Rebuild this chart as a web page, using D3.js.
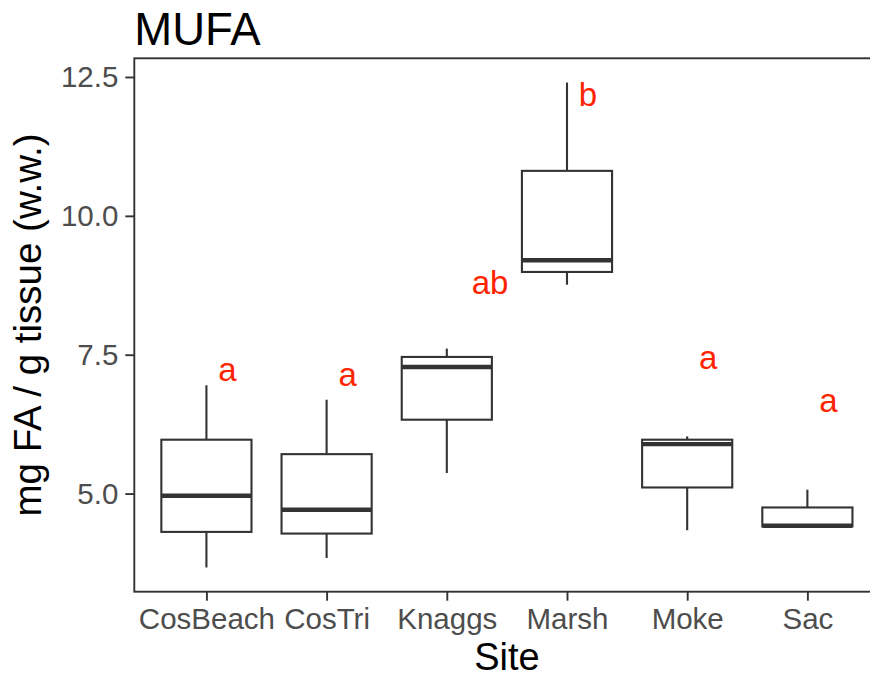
<!DOCTYPE html>
<html>
<head>
<meta charset="utf-8">
<script src="https://cdn.jsdelivr.net/npm/d3@7"></script>
<style>
  html, body { margin: 0; padding: 0; background: #fff; }
  svg { display: block; font-family: "Liberation Sans", Arial, Helvetica, sans-serif; }
</style>
</head>
<body>
<svg id="chart" width="870" height="682"></svg>
<script>
// MUFA content by site: box-plot summaries (mg FA / g tissue, wet weight)
const sites        = ["CosBeach", "CosTri", "Knaggs", "Marsh", "Moke", "Sac"];
const whiskerLow   = [3.67, 3.84, 5.37, 8.76, 4.34, 4.41];
const lowerQuart   = [4.31, 4.28, 6.33, 8.99, 5.11, 4.41];
const medianVal    = [4.96, 4.71, 7.28, 9.20, 5.89, 4.42];
const upperQuart   = [5.97, 5.71, 7.46, 10.81, 5.97, 4.75];
const whiskerHigh  = [6.95, 6.69, 7.61, 12.40, 6.03, 5.07];

// Significance group letters, their heights and horizontal nudges (in category steps)
const groupLetters = ["a", "a", "ab", "b", "a", "a"];
const letterY      = [7.03, 6.94, 8.59, 11.97, 7.24, 6.46];
const letterNudge  = [0.175, 0.175, 0.36, 0.175, 0.175, 0.175];

const yTicks = [5.0, 7.5, 10.0, 12.5];

const boxes = sites.map((s, i) => ({
  site: s, lo: whiskerLow[i], q1: lowerQuart[i], med: medianVal[i],
  q3: upperQuart[i], hi: whiskerHigh[i],
  letter: groupLetters[i], ly: letterY[i], nudge: letterNudge[i]
}));

const svg = d3.select("#chart");
const panel = { left: 134.3, top: 58.3, bottom: 591.7, right: 879.5 };
const ink = "#333333";

// Scales: discrete axis with 0.6-step padding, continuous axis with 5% expansion
const x = d3.scalePoint().domain(sites).range([panel.left, panel.right]).padding(0.6);
const step = x.step();
const yMin = d3.min(whiskerLow), yMax = d3.max(whiskerHigh);
const pad = (yMax - yMin) * 0.05;
const y = d3.scaleLinear().domain([yMin - pad, yMax + pad]).range([panel.bottom, panel.top]);

// Panel background and border
svg.append("rect")
  .attr("x", panel.left).attr("y", panel.top)
  .attr("width", panel.right - panel.left).attr("height", panel.bottom - panel.top)
  .attr("fill", "#fff").attr("stroke", ink).attr("stroke-width", 1.9);

// Axes
const yAxis = svg.append("g")
  .attr("transform", `translate(${panel.left},0)`)
  .call(d3.axisLeft(y).tickValues(yTicks).tickFormat(d3.format(".1f")).tickSize(9).tickPadding(7));
const xAxis = svg.append("g")
  .attr("transform", `translate(0,${panel.bottom})`)
  .call(d3.axisBottom(x).tickSize(9).tickPadding(7));
[yAxis, xAxis].forEach(g => {
  g.select(".domain").remove();
  g.selectAll(".tick line").attr("stroke", ink).attr("stroke-width", 1.9);
  g.selectAll(".tick text").attr("fill", "#4D4D4D")
    .style("font-size", "29.5px").style("font-family", "Liberation Sans, Arial, sans-serif");
});
xAxis.selectAll(".tick text").attr("dy", "0.71em");

// Box plots
const bw = step * 0.75;
const g = svg.append("g");
const bx = g.selectAll("g.box").data(boxes).enter().append("g").attr("class", "box");

bx.append("line")
  .attr("x1", d => x(d.site)).attr("x2", d => x(d.site))
  .attr("y1", d => y(d.q3)).attr("y2", d => y(d.hi))
  .attr("stroke", ink).attr("stroke-width", 2.1);
bx.append("line")
  .attr("x1", d => x(d.site)).attr("x2", d => x(d.site))
  .attr("y1", d => y(d.lo)).attr("y2", d => y(d.q1))
  .attr("stroke", ink).attr("stroke-width", 2.1);
bx.append("rect")
  .attr("x", d => x(d.site) - bw / 2).attr("width", bw)
  .attr("y", d => y(d.q3)).attr("height", d => y(d.q1) - y(d.q3))
  .attr("fill", "#fff").attr("stroke", ink).attr("stroke-width", 2.1);
bx.append("line")
  .attr("x1", d => x(d.site) - bw / 2).attr("x2", d => x(d.site) + bw / 2)
  .attr("y1", d => y(d.med)).attr("y2", d => y(d.med))
  .attr("stroke", ink).attr("stroke-width", 4.4);

// Group letters
g.selectAll("text.letter").data(boxes).enter().append("text")
  .attr("class", "letter")
  .attr("x", d => x(d.site) + d.nudge * step)
  .attr("y", d => y(d.ly))
  .attr("text-anchor", "middle")
  .attr("fill", "#FF2400")
  .style("font-size", "33px")
  .text(d => d.letter);

// Titles
svg.append("text")
  .attr("x", panel.left).attr("y", 45)
  .attr("fill", "#000").style("font-size", "45.5px")
  .text("MUFA");
svg.append("text")
  .attr("x", (panel.left + panel.right) / 2).attr("y", 670)
  .attr("text-anchor", "middle").attr("fill", "#000").style("font-size", "38px")
  .text("Site");
svg.append("text")
  .attr("transform", `translate(41,${(panel.top + panel.bottom) / 2}) rotate(-90)`)
  .attr("text-anchor", "middle").attr("fill", "#000").style("font-size", "38.5px")
  .text("mg FA / g tissue (w.w.)");
</script>
</body>
</html>
